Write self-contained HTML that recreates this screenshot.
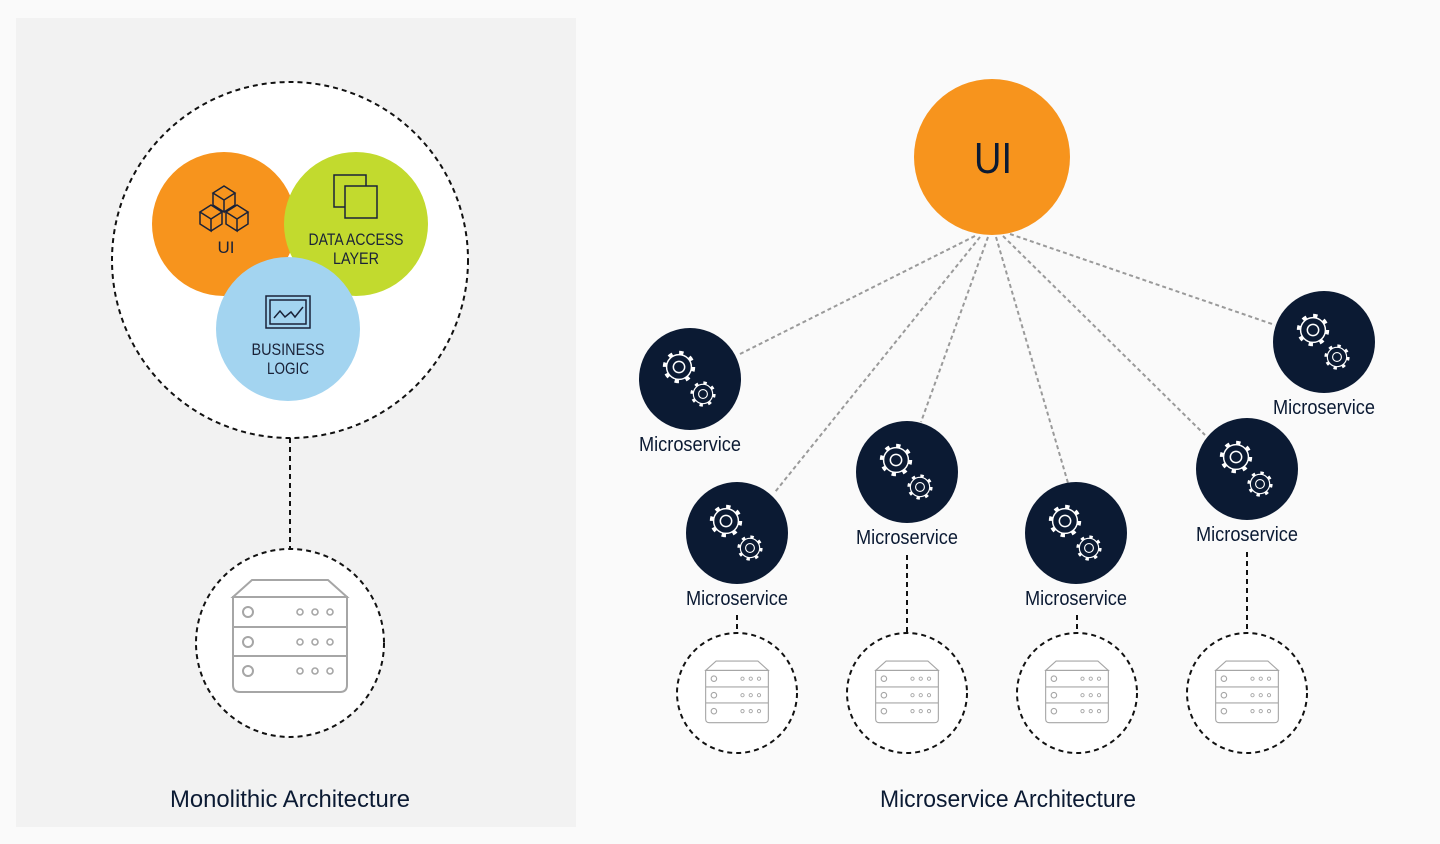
<!DOCTYPE html>
<html><head><meta charset="utf-8"><style>
html,body{margin:0;padding:0;background:#fafafa;}
svg{display:block;font-family:"Liberation Sans",sans-serif;}
</style></head><body>
<svg width="1440" height="844" viewBox="0 0 1440 844" xmlns="http://www.w3.org/2000/svg">
<defs>
<g id="gear">
  <circle r="10.5" fill="none" stroke="#fff" stroke-width="3" stroke-dasharray="3.2 5.05"/>
  <circle r="9.2" fill="#0b1a33" stroke="#fff" stroke-width="1.1"/>
  <circle r="4.2" fill="none" stroke="#fff" stroke-width="1.1"/>
</g>
<g id="ms">
  <circle r="51" fill="#0b1a33"/>
  <use href="#gear" transform="translate(-11,-12) scale(1.35)"/>
  <use href="#gear" transform="translate(13,15) scale(1.05)"/>
</g>
<g id="srv" fill="none" stroke="#a6a6a6" stroke-width="2">
  <path d="M-57,-41 L-38,-58 L38,-58 L57,-41 Z"/>
  <path d="M-57,-41 L57,-41 L57,47 Q57,54 50,54 L-50,54 Q-57,54 -57,47 Z"/>
  <line x1="-57" y1="-11" x2="57" y2="-11"/>
  <line x1="-57" y1="18" x2="57" y2="18"/>
  <circle cx="-42" cy="-26" r="5"/><circle cx="-42" cy="4" r="5"/><circle cx="-42" cy="33" r="5"/>
  <g stroke-width="1.6">
  <circle cx="10" cy="-26" r="3"/><circle cx="25" cy="-26" r="3"/><circle cx="40" cy="-26" r="3"/>
  <circle cx="10" cy="4" r="3"/><circle cx="25" cy="4" r="3"/><circle cx="40" cy="4" r="3"/>
  <circle cx="10" cy="33" r="3"/><circle cx="25" cy="33" r="3"/><circle cx="40" cy="33" r="3"/>
  </g>
</g>
</defs>

<rect x="16" y="18" width="560" height="809" fill="#f2f2f2"/>

<!-- Monolith -->
<circle cx="290" cy="260" r="178" fill="#fff" stroke="#111" stroke-width="2" stroke-dasharray="5 4"/>
<circle cx="224" cy="224" r="72" fill="#f7941d"/>
<circle cx="356" cy="224" r="72" fill="#c2da2e"/>
<circle cx="288" cy="329" r="72" fill="#a3d4f0"/>
<g fill="none" stroke="#1a2238" stroke-width="1.5">
  <path d="M213,193 l11,-7 l11,7 l-11,7 z M213,193 v12 l11,7 v-12 M235,193 v12 l-11,7"/>
  <path d="M200,212 l11,-7 l11,7 l-11,7 z M200,212 v12 l11,7 v-12 M222,212 v12 l-11,7"/>
  <path d="M226,212 l11,-7 l11,7 l-11,7 z M226,212 v12 l11,7 v-12 M248,212 v12 l-11,7"/>
  <rect x="334" y="175" width="32" height="32"/>
  <rect x="345" y="186" width="32" height="32" fill="#c2da2e"/>
  <rect x="266" y="296" width="44" height="32"/>
  <rect x="270" y="300" width="36" height="24"/>
  <path d="M274,318 l6,-7 l5,6 l6,-5 l4,5 l8,-10"/>
</g>
<g fill="#1a2238" font-size="17" text-anchor="middle">
  <text x="226" y="253">UI</text>
  <text x="356" y="245" textLength="95" lengthAdjust="spacingAndGlyphs">DATA ACCESS</text>
  <text x="356" y="264" textLength="46" lengthAdjust="spacingAndGlyphs">LAYER</text>
  <text x="288" y="355" textLength="73" lengthAdjust="spacingAndGlyphs">BUSINESS</text>
  <text x="288" y="374" textLength="42" lengthAdjust="spacingAndGlyphs">LOGIC</text>
</g>
<line x1="290" y1="438" x2="290" y2="548" stroke="#111" stroke-width="2" stroke-dasharray="5 4"/>
<circle cx="290" cy="643" r="94" fill="#fff" stroke="#111" stroke-width="2" stroke-dasharray="5 4"/>
<use href="#srv" transform="translate(290,638)"/>
<text x="290" y="807" font-size="24" fill="#0b1a33" text-anchor="middle" textLength="240" lengthAdjust="spacingAndGlyphs">Monolithic  Architecture</text>

<!-- Microservices -->
<g stroke="#9a9a9a" stroke-width="2" stroke-dasharray="4 3" fill="none">
  <line x1="975" y1="236" x2="738" y2="355"/>
  <line x1="980" y1="237" x2="775" y2="492"/>
  <line x1="988" y1="237" x2="921" y2="422"/>
  <line x1="996" y1="237" x2="1068" y2="483"/>
  <line x1="1003" y1="236" x2="1205" y2="435"/>
  <line x1="1010" y1="234" x2="1275" y2="325"/>
</g>
<circle cx="992" cy="157" r="78" fill="#f7941d"/>
<text x="993" y="173" font-size="44" fill="#0b1a33" text-anchor="middle" textLength="38" lengthAdjust="spacingAndGlyphs">UI</text>

<use href="#ms" x="690" y="379"/>
<use href="#ms" x="737" y="533"/>
<use href="#ms" x="907" y="472"/>
<use href="#ms" x="1076" y="533"/>
<use href="#ms" x="1247" y="469"/>
<use href="#ms" x="1324" y="342"/>
<g fill="#0b1a33" font-size="20" text-anchor="middle">
  <text x="690" y="451" textLength="102" lengthAdjust="spacingAndGlyphs">Microservice</text>
  <text x="737" y="605" textLength="102" lengthAdjust="spacingAndGlyphs">Microservice</text>
  <text x="907" y="544" textLength="102" lengthAdjust="spacingAndGlyphs">Microservice</text>
  <text x="1076" y="605" textLength="102" lengthAdjust="spacingAndGlyphs">Microservice</text>
  <text x="1247" y="541" textLength="102" lengthAdjust="spacingAndGlyphs">Microservice</text>
  <text x="1324" y="414" textLength="102" lengthAdjust="spacingAndGlyphs">Microservice</text>
</g>
<g stroke="#111" stroke-width="2" stroke-dasharray="5 4">
  <line x1="737" y1="615" x2="737" y2="633"/>
  <line x1="907" y1="555" x2="907" y2="633"/>
  <line x1="1077" y1="615" x2="1077" y2="633"/>
  <line x1="1247" y1="552" x2="1247" y2="633"/>
</g>
<g fill="#fff" stroke="#111" stroke-width="2" stroke-dasharray="5 4">
  <circle cx="737" cy="693" r="60"/>
  <circle cx="907" cy="693" r="60"/>
  <circle cx="1077" cy="693" r="60"/>
  <circle cx="1247" cy="693" r="60"/>
</g>
<use href="#srv" transform="translate(737,693) scale(0.55)"/>
<use href="#srv" transform="translate(907,693) scale(0.55)"/>
<use href="#srv" transform="translate(1077,693) scale(0.55)"/>
<use href="#srv" transform="translate(1247,693) scale(0.55)"/>
<text x="1008" y="807" font-size="24" fill="#0b1a33" text-anchor="middle" textLength="256" lengthAdjust="spacingAndGlyphs">Microservice Architecture</text>
</svg>
</body></html>
